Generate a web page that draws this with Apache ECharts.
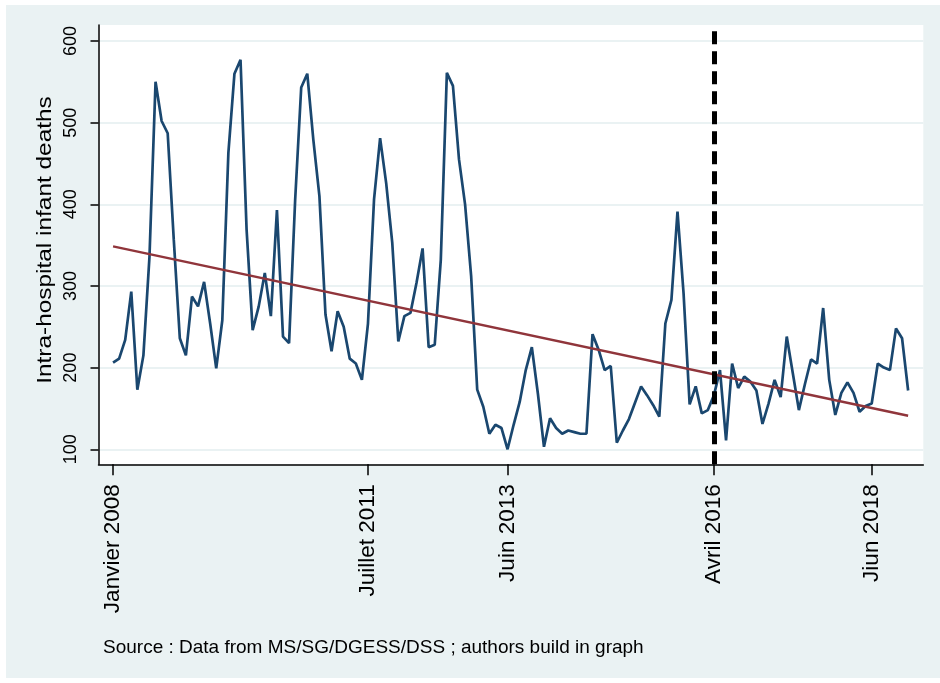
<!DOCTYPE html>
<html>
<head>
<meta charset="utf-8">
<title>Intra-hospital infant deaths</title>
<script src="https://cdn.jsdelivr.net/npm/echarts@6/dist/echarts.min.js"></script>
<style>
  html, body { margin: 0; padding: 0; background: #ffffff; }
  #chart { width: 940px; height: 683px; }
</style>
</head>
<body>
<div id="chart"></div>
<script>
// Monthly intra-hospital infant deaths, January to December of each year
const deaths2008 = [206, 211, 234, 293, 173, 215, 336, 550, 502, 487, 357, 236];
const deaths2009 = [215, 287, 275, 305, 254, 199, 258, 463, 560, 577, 369, 246];
const deaths2010 = [275, 316, 263, 393, 238, 230, 405, 543, 560, 479, 410, 265];
const deaths2011 = [220, 269, 250, 211, 205, 185, 254, 406, 481, 426, 353, 232];
const deaths2012 = [263, 267, 304, 346, 225, 228, 332, 561, 545, 455, 400, 312];
const deaths2013 = [173, 152, 119, 130, 126, 100, 130, 158, 197, 225, 168, 103];
const deaths2014 = [138, 126, 119, 123, 121, 119, 119, 241, 222, 197, 202, 108];
const deaths2015 = [123, 137, 157, 177, 166, 154, 140, 254, 283, 391, 291, 155];
const deaths2016 = [177, 144, 148, 166, 197, 111, 205, 175, 189, 183, 172, 131];
const deaths2017 = [156, 185, 164, 238, 193, 148, 180, 210, 205, 273, 185, 142];
const deaths2018 = [169, 182, 169, 146, 153, 156, 205, 200, 197, 248, 236, 172];

// Linear trend: value at the first and at the last month
const trendMonths = [0, 131];
const trendValues = [348.5, 141];

// Month index (0 = Janvier 2008) of the policy change
const policyMonth = 99;

// X tick positions (month index) and their labels
const xTickMonths = [0, 42, 65, 99, 125];
const xTickLabels = ['Janvier 2008', 'Juillet 2011', 'Juin 2013', 'Avril 2016', 'Jiun 2018'];

// Y tick values
const yTicks = [100, 200, 300, 400, 500, 600];

const monthly = [].concat(deaths2008, deaths2009, deaths2010, deaths2011, deaths2012,
  deaths2013, deaths2014, deaths2015, deaths2016, deaths2017, deaths2018);
const seriesData = monthly.map((v, i) => [i, v]);
const trendData = trendMonths.map((m, i) => [m, trendValues[i]]);

const FONT = '"Liberation Sans", Arial, sans-serif';

const chart = echarts.init(document.getElementById('chart'), null, { renderer: 'canvas' });
chart.setOption({
  animation: false,
  backgroundColor: '#ffffff',
  textStyle: { fontFamily: FONT },
  graphic: [
    {
      type: 'rect', z: -10, silent: true,
      shape: { x: 6, y: 5, width: 934, height: 673 },
      style: { fill: '#eaf2f3' }
    },
    {
      // y-axis title, drawn upright-rotated and slightly elongated
      type: 'text', z: 10, silent: true,
      x: 45, y: 240, rotation: Math.PI / 2, scaleX: 1.22,
      style: {
        x: 0, y: 0, text: 'Intra-hospital infant deaths',
        fill: '#000000', font: '20px ' + FONT,
        textAlign: 'center', textVerticalAlign: 'middle'
      }
    },
    {
      type: 'text', z: 10, silent: true,
      style: {
        x: 103, y: 648, text: 'Source : Data from MS/SG/DGESS/DSS ; authors build in graph',
        fill: '#000000', font: '19px ' + FONT, textVerticalAlign: 'middle'
      }
    }
  ],
  grid: {
    left: 98.5, top: 25, right: 940 - 923.3, bottom: 683 - 464.3,
    show: true, backgroundColor: '#ffffff', borderWidth: 0
  },
  xAxis: {
    type: 'value',
    min: -2.4, max: 133.5,
    axisLine: { show: true, onZero: false, lineStyle: { color: '#000000', width: 1.5 } },
    axisTick: { show: true, length: 11, customValues: xTickMonths, lineStyle: { color: '#000000', width: 1.5 } },
    axisLabel: {
      customValues: xTickMonths,
      rotate: 90, margin: 20, fontSize: 22.5, color: '#000000', fontFamily: FONT,
      formatter: (v) => {
        const k = xTickMonths.indexOf(Math.round(v));
        return k >= 0 ? xTickLabels[k] : '';
      }
    },
    splitLine: { show: false }
  },
  yAxis: {
    type: 'value',
    min: 81.6, max: 619.6,
    axisLine: { show: true, onZero: false, lineStyle: { color: '#000000', width: 1.5 } },
    axisTick: { show: true, length: 8, customValues: yTicks, lineStyle: { color: '#000000', width: 1.5 } },
    axisLabel: {
      customValues: yTicks,
      rotate: 90, margin: 18, fontSize: 18, color: '#000000', fontFamily: FONT
    },
    splitLine: { show: true, lineStyle: { color: '#eaf2f3', width: 2 } }
  },
  series: [
    {
      type: 'line',
      data: seriesData,
      showSymbol: false,
      lineStyle: { color: '#1a476f', width: 2.7 },
      z: 3
    },
    {
      type: 'line',
      data: trendData,
      showSymbol: false,
      lineStyle: { color: '#90353b', width: 2.5 },
      z: 4,
      markLine: {
        silent: true,
        symbol: ['none', 'none'],
        label: { show: false },
        lineStyle: { color: '#000000', width: 5, type: [13, 7] },
        data: [{ xAxis: policyMonth }]
      }
    }
  ]
});
</script>
</body>
</html>
